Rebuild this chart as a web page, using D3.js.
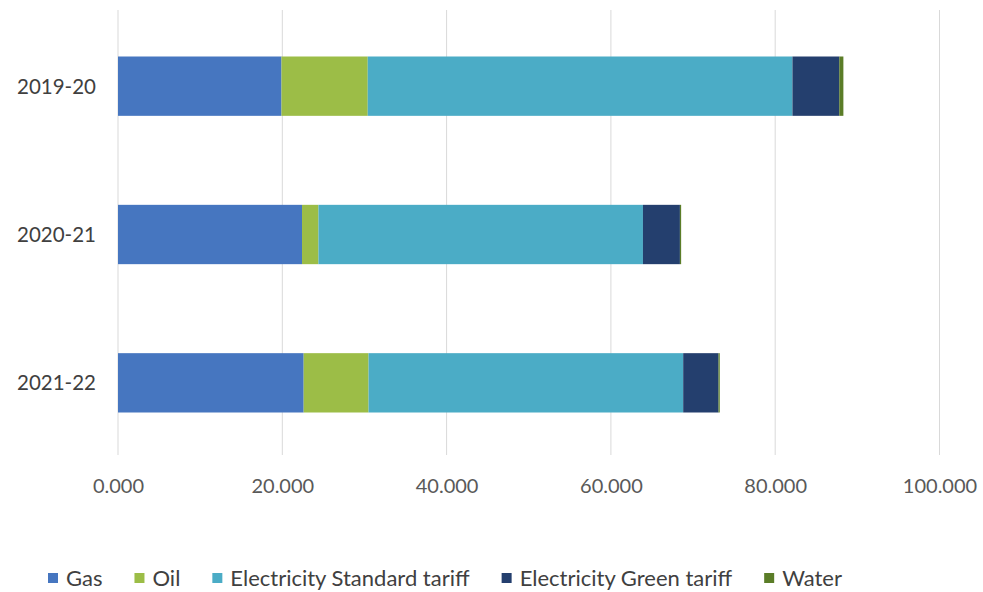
<!DOCTYPE html>
<html>
<head>
<meta charset="utf-8">
<script src="https://cdn.jsdelivr.net/npm/d3@7"></script>
<style>
  body { margin: 0; background: #fff; }
  svg { display: block; font-family: Lato, "Open Sans", sans-serif; }
</style>
</head>
<body>
<svg id="chart" width="983" height="592"></svg>
<script>
// Energy spend by year, stacked by utility type
const years = ["2019-20", "2020-21", "2021-22"];
const seriesNames = ["Gas", "Oil", "Electricity Standard tariff", "Electricity Green tariff", "Water"];
const gas = [19900, 22400, 22600];
const oil = [10500, 2000, 7900];
const elecStandard = [51700, 39500, 38300];
const elecGreen = [5700, 4500, 4300];
const water = [500, 150, 150];
const xTicks = [0, 20000, 40000, 60000, 80000, 100000];
const colors = ["#4676c0", "#9cbd47", "#4bacc6", "#243f6e", "#5b7d28"];

const seriesValues = [gas, oil, elecStandard, elecGreen, water];
const rows = years.map((y, i) => {
  const r = { year: y };
  seriesNames.forEach((s, k) => { r[s] = seriesValues[k][i]; });
  return r;
});

const svg = d3.select("#chart");
const x = d3.scaleLinear().domain([0, 100000]).range([118, 939.5]);
const y = d3.scaleBand().domain(years).range([12, 457]).paddingInner(0.6).paddingOuter(0.3);
const color = d3.scaleOrdinal().domain(seriesNames).range(colors);

// vertical gridlines
svg.append("g")
  .selectAll("line")
  .data(xTicks)
  .join("line")
  .attr("x1", d => x(d)).attr("x2", d => x(d))
  .attr("y1", 10).attr("y2", 455)
  .attr("stroke", "#d9d9d9").attr("stroke-width", 1);

// stacked bars
const stacked = d3.stack().keys(seriesNames)(rows);
svg.append("g")
  .selectAll("g")
  .data(stacked)
  .join("g")
  .attr("fill", d => color(d.key))
  .selectAll("rect")
  .data(d => d)
  .join("rect")
  .attr("x", d => x(d[0]))
  .attr("width", d => x(d[1]) - x(d[0]))
  .attr("y", d => y(d.data.year))
  .attr("height", y.bandwidth());

// x axis labels (thousands separated with a dot)
const fmt = d => d3.format(".3f")(d / 1000);
const xAxis = d3.axisBottom(x).tickValues(xTicks).tickFormat(fmt).tickSize(0).tickPadding(0);
const gx = svg.append("g").attr("transform", "translate(0,479)").call(xAxis);
gx.select(".domain").remove();
gx.selectAll("text").attr("font-size", 20).attr("fill", "#595959").attr("font-family", "Lato, 'Open Sans', sans-serif");

// y axis labels
const yAxis = d3.axisLeft(y).tickSize(0).tickPadding(0);
const gy = svg.append("g").attr("transform", "translate(96,1)").call(yAxis);
gy.select(".domain").remove();
gy.selectAll("text").attr("font-size", 20.5).attr("fill", "#404040").attr("font-family", "Lato, 'Open Sans', sans-serif");

// legend
const legend = svg.append("g").attr("transform", "translate(0,578)");
let lx = 48;
seriesNames.forEach((s, i) => {
  const g = legend.append("g").attr("transform", `translate(${lx},0)`);
  g.append("rect").attr("x", 0).attr("y", -5).attr("width", 10).attr("height", 10).attr("fill", colors[i]);
  const t = g.append("text").attr("x", 18).attr("y", 0).attr("dy", "0.35em")
    .attr("font-size", 22).attr("fill", "#404040").text(s);
  const w = t.node().getComputedTextLength();
  lx += 18 + w + 32;
});
</script>
</body>
</html>
